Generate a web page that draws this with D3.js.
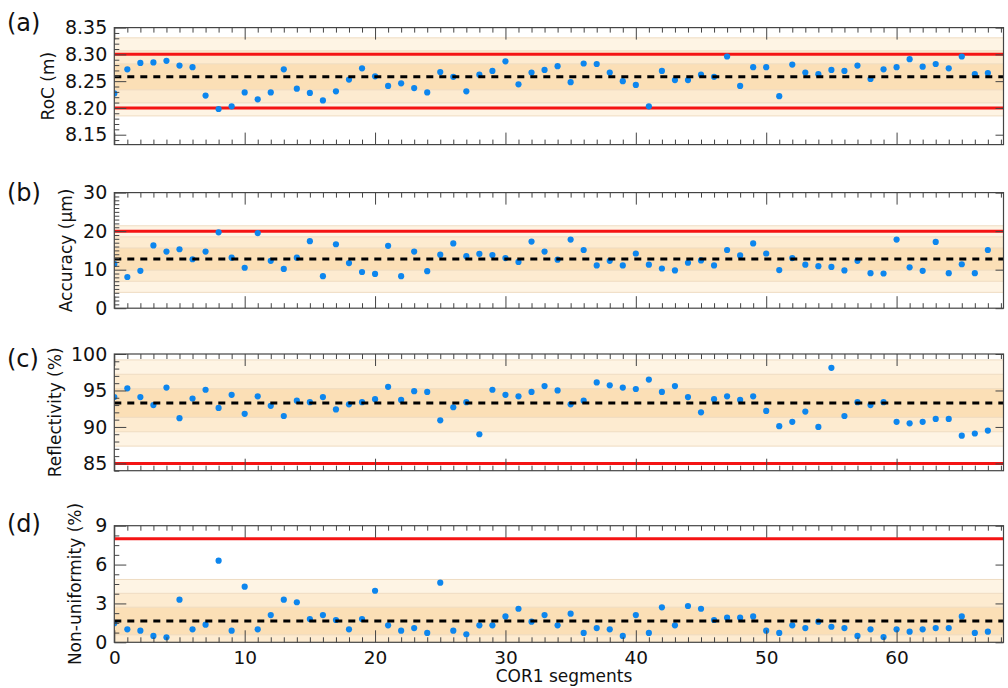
<!DOCTYPE html>
<html>
<head>
<meta charset="utf-8">
<script src="https://cdn.jsdelivr.net/npm/d3@7/dist/d3.min.js"></script>
<style>
  html, body { margin: 0; padding: 0; background: #ffffff; }
  svg { display: block; font-family: "DejaVu Sans", sans-serif; }
</style>
</head>
<body>
<svg id="chart" width="1008" height="688"></svg>
<script>
// COR1 mirror segment measurements, one value per segment (0..67)
const segments = d3.range(68);

const roc = [8.227, 8.272, 8.284, 8.285, 8.288, 8.279, 8.276, 8.223, 8.198, 8.203,
  8.229, 8.216, 8.229, 8.272, 8.236, 8.228, 8.214, 8.231, 8.253, 8.274,
  8.259, 8.241, 8.246, 8.237, 8.229, 8.267, 8.258, 8.231, 8.262, 8.269,
  8.287, 8.244, 8.266, 8.271, 8.278, 8.248, 8.283, 8.282, 8.266, 8.250,
  8.243, 8.203, 8.269, 8.252, 8.252, 8.262, 8.258, 8.296, 8.241, 8.276,
  8.276, 8.222, 8.281, 8.266, 8.263, 8.271, 8.269, 8.279, 8.254, 8.272,
  8.276, 8.291, 8.277, 8.282, 8.274, 8.296, 8.263, 8.265];

const accuracy = [11.5, 8.1, 9.7, 16.3, 14.7, 15.3, 12.7, 14.7, 19.7, 13.1,
  10.5, 19.5, 12.3, 10.2, 13.1, 17.4, 8.3, 16.6, 11.7, 9.4,
  8.9, 16.2, 8.3, 14.7, 9.6, 13.9, 16.8, 13.5, 14.1, 13.8,
  13.0, 12.0, 17.3, 14.7, 12.6, 17.8, 15.1, 11.1, 12.3, 11.1,
  14.2, 11.3, 10.3, 9.8, 11.8, 12.4, 11.1, 15.1, 13.7, 16.8,
  14.2, 9.9, 13.0, 11.3, 10.9, 10.7, 9.8, 12.3, 9.1, 9.0,
  17.8, 10.6, 9.7, 17.2, 9.1, 11.4, 9.1, 15.1];

const reflectivity = [94.1, 95.3, 94.1, 93.0, 95.4, 91.2, 93.9, 95.1, 92.6, 94.4,
  91.8, 94.2, 92.9, 91.5, 93.6, 93.4, 94.1, 92.4, 93.1, 93.4,
  93.8, 95.5, 93.7, 94.9, 94.8, 90.9, 92.7, 93.4, 89.0, 95.1,
  94.4, 94.2, 94.8, 95.6, 95.0, 93.1, 93.6, 96.1, 95.7, 95.4,
  95.2, 96.5, 94.8, 95.6, 94.1, 92.0, 93.8, 94.2, 93.7, 94.2,
  92.2, 90.1, 90.7, 92.1, 90.0, 98.1, 91.5, 93.4, 93.0, 93.4,
  90.7, 90.5, 90.7, 91.1, 91.1, 88.8, 89.1, 89.5];

const nonUniformity = [1.47, 1.0, 0.9, 0.49, 0.39, 3.29, 1.0, 1.36, 6.3, 0.9,
  4.29, 1.0, 2.1, 3.29, 3.09, 1.8, 2.1, 1.72, 1.0, 1.8,
  3.98, 1.31, 0.9, 1.1, 0.72, 4.6, 0.9, 0.62, 1.31, 1.31,
  2.0, 2.59, 1.59, 2.1, 1.31, 2.21, 0.72, 1.1, 1.0, 0.49,
  2.1, 0.72, 2.7, 1.31, 2.8, 2.59, 1.72, 1.9, 1.9, 2.0,
  0.9, 0.72, 1.31, 1.1, 1.59, 1.2, 1.1, 0.49, 1.0, 0.41,
  1.0, 0.82, 1.0, 1.1, 1.1, 2.0, 0.72, 0.82];

// Mean (dashed line) and standard deviation (shaded 1/2/3 sigma bands)
const means  = [8.258, 12.75, 93.28, 1.64];
const sigmas = [0.0243, 2.88, 1.97, 1.07];
// Specification limits (red lines)
const specLimits = [[8.20, 8.30], [20], [85], [8]];

// Axis titles, panel tags and tick values
const panelTags = ["(a)", "(b)", "(c)", "(d)"];
const yTitles = ["RoC (m)", "Accuracy (\u03bcm)", "Reflectivity (%)", "Non-uniformity (%)"];
const yMajorTicks = [
  [8.15, 8.20, 8.25, 8.30, 8.35],
  [0, 10, 20, 30],
  [85, 90, 95, 100],
  [0, 3, 6, 9]
];
const yTickLabels = [
  ["8.15", "8.20", "8.25", "8.30", "8.35"],
  ["0", "10", "20", "30"],
  ["85", "90", "95", "100"],
  ["0", "3", "6", "9"]
];
const xMajorTicks = [0, 10, 20, 30, 40, 50, 60];
const xTitle = "COR1 segments";

// ---- layout ----
const svg = d3.select("#chart");
const left = 114.3, right = 1003.5;
const x = d3.scaleLinear().domain([0, 68.2]).range([left, right]);

const layout = [
  { top: 27.6, bottom: 144.6, domain: [8.1315, 8.35], minorStep: 0.01, tagY: 31, titleX: 48 },
  { top: 192.6, bottom: 308.2, domain: [0, 30], minorStep: 1, tagY: 201, titleX: 66 },
  { top: 354.0, bottom: 470.7, domain: [84, 100], minorStep: 1, tagY: 367, titleX: 55 },
  { top: 525.7, bottom: 642.3, domain: [0, 9], minorStep: 0.75, tagY: 532, titleX: 75 }
];

const series = [roc, accuracy, reflectivity, nonUniformity];

const bandColors = ["#fef4e4", "#fdebd0", "#fbdfb6"];
const bandEdge = "#efdcc2";
const frameColor = "#444444";
const dotColor = "#0d86ee";

function minorValues(domain, step) {
  const out = [];
  const n0 = Math.ceil(domain[0] / step - 1e-6), n1 = Math.floor(domain[1] / step + 1e-6);
  for (let k = n0; k <= n1; k++) out.push(+(k * step).toFixed(6));
  return out;
}

layout.forEach((L, p) => {
  const y = d3.scaleLinear().domain(L.domain).range([L.bottom, L.top]);
  const g = svg.append("g");
  const clipId = "clip" + p;
  svg.append("clipPath").attr("id", clipId)
    .append("rect").attr("x", left).attr("y", L.top)
    .attr("width", right - left).attr("height", L.bottom - L.top);

  const plot = g.append("g").attr("clip-path", `url(#${clipId})`);

  // sigma bands, widest first
  [3, 2, 1].forEach((k, i) => {
    const hi = means[p] + k * sigmas[p], lo = means[p] - k * sigmas[p];
    plot.append("rect")
      .attr("x", left).attr("width", right - left)
      .attr("y", y(hi)).attr("height", y(lo) - y(hi))
      .attr("fill", bandColors[i]);
  });
  [3, 2, 1].forEach(k => {
    [means[p] + k * sigmas[p], means[p] - k * sigmas[p]].forEach(v => {
      plot.append("line")
        .attr("x1", left).attr("x2", right)
        .attr("y1", y(v)).attr("y2", y(v))
        .attr("stroke", bandEdge).attr("stroke-width", 1);
    });
  });

  // specification limits
  specLimits[p].forEach(v => {
    plot.append("line")
      .attr("x1", left).attr("x2", right)
      .attr("y1", y(v)).attr("y2", y(v))
      .attr("stroke", "#f41414").attr("stroke-width", 3);
  });

  // measurements
  plot.selectAll("circle.pt").data(series[p]).join("circle")
    .attr("class", "pt")
    .attr("cx", (d, i) => x(segments[i]))
    .attr("cy", d => y(d))
    .attr("r", 3.1)
    .attr("fill", dotColor);

  // mean line
  plot.append("line")
    .attr("x1", left).attr("x2", right)
    .attr("y1", y(means[p])).attr("y2", y(means[p]))
    .attr("stroke", "#000").attr("stroke-width", 3)
    .attr("stroke-dasharray", "7,6");

  // ---- axes ----
  const styleAxis = sel => {
    sel.select(".domain").remove();
    sel.selectAll(".tick line").attr("stroke", frameColor).attr("stroke-width", 1);
    sel.selectAll(".tick text").attr("fill", "#111").style("font-family", "DejaVu Sans, sans-serif");
  };

  // x minor / major, bottom and top, ticks pointing inward
  const xMinor = segments.concat([68]).filter(v => v % 10 !== 0);
  g.append("g").attr("transform", `translate(0,${L.bottom})`)
    .call(d3.axisBottom(x).tickValues(xMinor).tickSize(-5).tickFormat(""))
    .call(styleAxis);
  g.append("g").attr("transform", `translate(0,${L.top})`)
    .call(d3.axisTop(x).tickValues(xMinor).tickSize(-5).tickFormat(""))
    .call(styleAxis);
  const xb = g.append("g").attr("transform", `translate(0,${L.bottom})`)
    .call(d3.axisBottom(x).tickValues(xMajorTicks).tickSize(-12).tickPadding(8)
      .tickFormat(p === 3 ? d3.format("d") : ""))
    .call(styleAxis);
  xb.selectAll(".tick text").attr("font-size", 18.5).attr("dy", "0.75em");
  g.append("g").attr("transform", `translate(0,${L.top})`)
    .call(d3.axisTop(x).tickValues(xMajorTicks).tickSize(-12).tickFormat(""))
    .call(styleAxis);

  // y minor / major, left and right
  const majors = yMajorTicks[p];
  const yMinor = minorValues(L.domain, L.minorStep)
    .filter(v => !majors.some(m => Math.abs(m - v) < 1e-6));
  g.append("g").attr("transform", `translate(${left},0)`)
    .call(d3.axisLeft(y).tickValues(yMinor).tickSize(-5).tickFormat(""))
    .call(styleAxis);
  const yl = g.append("g").attr("transform", `translate(${left},0)`)
    .call(d3.axisLeft(y).tickValues(majors).tickSize(-12).tickPadding(7)
      .tickFormat((d, i) => yTickLabels[p][i]))
    .call(styleAxis);
  yl.selectAll(".tick text").attr("font-size", 19);
  g.append("g").attr("transform", `translate(${right},0)`)
    .call(d3.axisRight(y).tickValues(majors).tickSize(-8).tickFormat(""))
    .call(styleAxis);

  // frame
  g.append("rect")
    .attr("x", left).attr("y", L.top)
    .attr("width", right - left).attr("height", L.bottom - L.top)
    .attr("fill", "none").attr("stroke", frameColor).attr("stroke-width", 1.2);

  // y title
  g.append("text")
    .attr("transform", `translate(${L.titleX},${(L.top + L.bottom) / 2}) rotate(-90)`)
    .attr("text-anchor", "middle").attr("dy", "0.35em")
    .attr("font-size", 17).attr("fill", "#111")
    .text(yTitles[p]);

  // panel tag
  g.append("text")
    .attr("x", 7).attr("y", L.tagY)
    .attr("font-size", 24).attr("fill", "#111")
    .text(panelTags[p]);
});

// x title
svg.append("text")
  .attr("x", 564).attr("y", 682)
  .attr("text-anchor", "middle")
  .attr("font-size", 17).attr("fill", "#111")
  .text(xTitle);
</script>
</body>
</html>
